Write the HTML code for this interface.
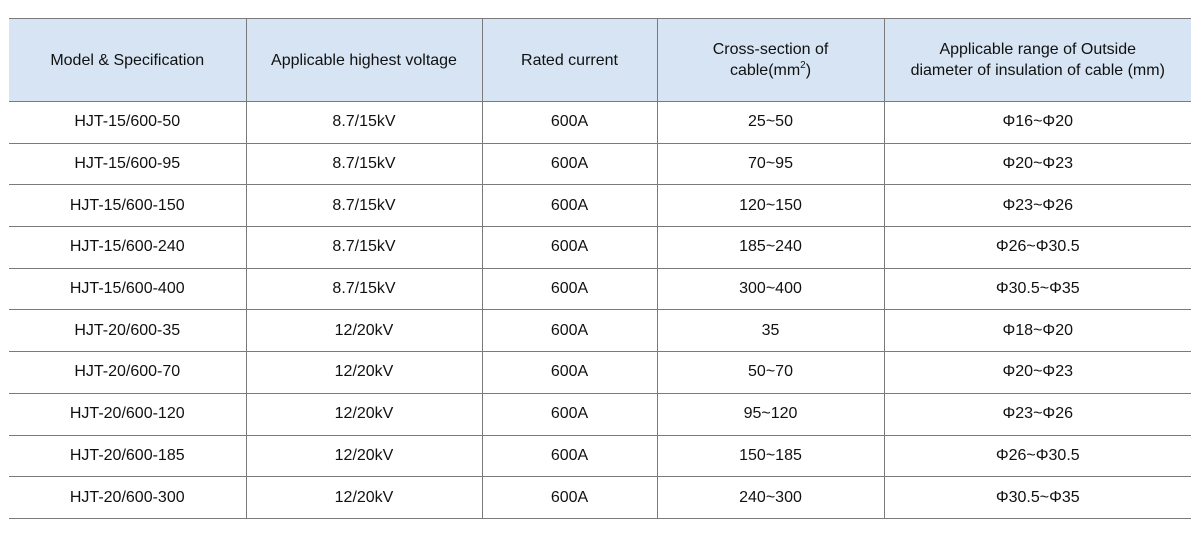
<!DOCTYPE html>
<html><head><style>
body{margin:0;background:#fff;width:1200px;height:536px;overflow:hidden}
table{position:absolute;left:9px;top:18px;width:1182px;border-collapse:collapse;font-family:"Liberation Sans",Arial,sans-serif;font-size:16px;color:#111;table-layout:fixed}
td,th{border:1.5px solid #7a7a7a;text-align:center;padding:0;font-weight:normal}
tr>*:first-child{border-left:none}
tr>*:last-child{border-right:none}
th{background:#d6e4f3;height:82px;line-height:21px}
td{height:40.7px}
sup{font-size:10px;vertical-align:7px;line-height:0}
</style></head><body>
<table>
<colgroup><col style="width:237px"><col style="width:236px"><col style="width:175px"><col style="width:227px"><col style="width:307px"></colgroup>
<tr><th>Model &amp; Specification</th><th>Applicable highest voltage</th><th>Rated current</th><th>Cross-section of<br>cable(mm<sup>2</sup>)</th><th>Applicable range of Outside<br>diameter of insulation of cable (mm)</th></tr>
<tr><td>HJT-15/600-50</td><td>8.7/15kV</td><td>600A</td><td>25~50</td><td>Φ16~Φ20</td></tr>
<tr><td>HJT-15/600-95</td><td>8.7/15kV</td><td>600A</td><td>70~95</td><td>Φ20~Φ23</td></tr>
<tr><td>HJT-15/600-150</td><td>8.7/15kV</td><td>600A</td><td>120~150</td><td>Φ23~Φ26</td></tr>
<tr><td>HJT-15/600-240</td><td>8.7/15kV</td><td>600A</td><td>185~240</td><td>Φ26~Φ30.5</td></tr>
<tr><td>HJT-15/600-400</td><td>8.7/15kV</td><td>600A</td><td>300~400</td><td>Φ30.5~Φ35</td></tr>
<tr><td>HJT-20/600-35</td><td>12/20kV</td><td>600A</td><td>35</td><td>Φ18~Φ20</td></tr>
<tr><td>HJT-20/600-70</td><td>12/20kV</td><td>600A</td><td>50~70</td><td>Φ20~Φ23</td></tr>
<tr><td>HJT-20/600-120</td><td>12/20kV</td><td>600A</td><td>95~120</td><td>Φ23~Φ26</td></tr>
<tr><td>HJT-20/600-185</td><td>12/20kV</td><td>600A</td><td>150~185</td><td>Φ26~Φ30.5</td></tr>
<tr><td>HJT-20/600-300</td><td>12/20kV</td><td>600A</td><td>240~300</td><td>Φ30.5~Φ35</td></tr>
</table>
</body></html>
